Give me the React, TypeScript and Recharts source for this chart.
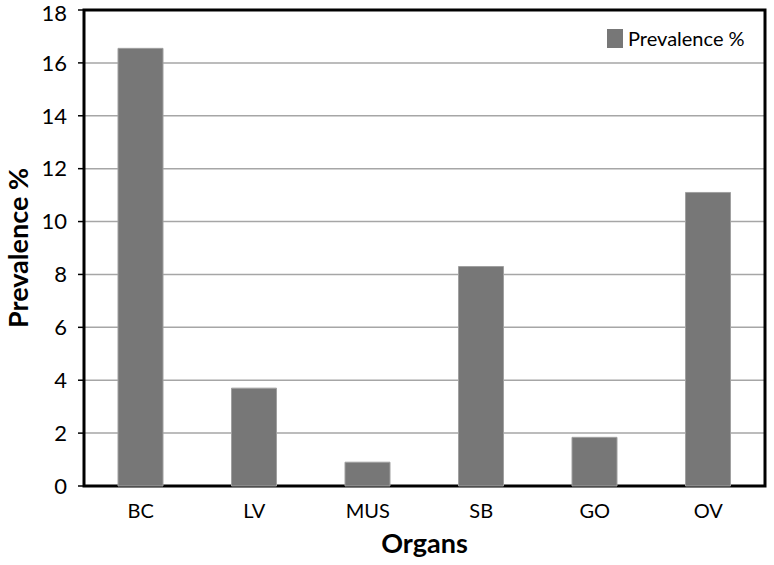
import { BarChart, Bar, XAxis, YAxis, CartesianGrid, ReferenceArea } from "recharts";

const organs = ["BC", "LV", "MUS", "SB", "GO", "OV"];
const prevalence = [16.55, 3.7, 0.9, 8.3, 1.84, 11.1];
const yTicks = [0, 2, 4, 6, 8, 10, 12, 14, 16, 18];

const data = organs.map((name, i) => ({ name, "Prevalence %": prevalence[i] }));

const FONT = "Lato, 'Open Sans', sans-serif";

export default function App() {
  return (
    <div style={{ position: "absolute", left: 0, top: 0, width: 774, height: 565, background: "#fff" }}>
      <BarChart width={774} height={565} data={data} margin={{ top: 10, right: 9, left: 0, bottom: 0 }}>
        <CartesianGrid vertical={false} stroke="#a6a6a6" strokeWidth={1.5} />
        <ReferenceArea y1={0} y2={18} fill="none" stroke="#000" strokeWidth={3} ifOverflow="visible" />
        <XAxis
          dataKey="name"
          height={79}
          axisLine={false}
          tickLine={false}
          tick={{ fill: "#000", fontSize: 20, fontFamily: FONT }}
          tickMargin={12}
          label={{ value: "Organs", position: "insideBottom", offset: 12, fill: "#000", fontSize: 27, fontWeight: 700, fontFamily: FONT }}
        />
        <YAxis
          width={84}
          domain={[0, 18]}
          ticks={yTicks}
          axisLine={false}
          tickLine={{ stroke: "#000", strokeWidth: 1.5 }}
          tickSize={6}
          tick={{ fill: "#000", fontSize: 22, fontFamily: FONT }}
          tickMargin={11}
          label={{ value: "Prevalence %", angle: -90, position: "insideLeft", offset: 18, style: { textAnchor: "middle" }, fill: "#000", fontSize: 27, fontWeight: 700, fontFamily: FONT }}
        />
        <Bar dataKey="Prevalence %" fill="#777777" stroke="#a0a0a0" strokeWidth={1} barSize={45} isAnimationActive={false} />
      </BarChart>
      <div
        style={{
          position: "absolute",
          left: 607,
          top: 26,
          display: "flex",
          alignItems: "center",
          fontFamily: FONT,
          fontSize: 20,
          color: "#000",
          whiteSpace: "nowrap",
        }}
      >
        <span style={{ width: 16, height: 19, background: "#777777", display: "inline-block", marginRight: 5 }} />
        Prevalence %
      </div>
    </div>
  );
}
